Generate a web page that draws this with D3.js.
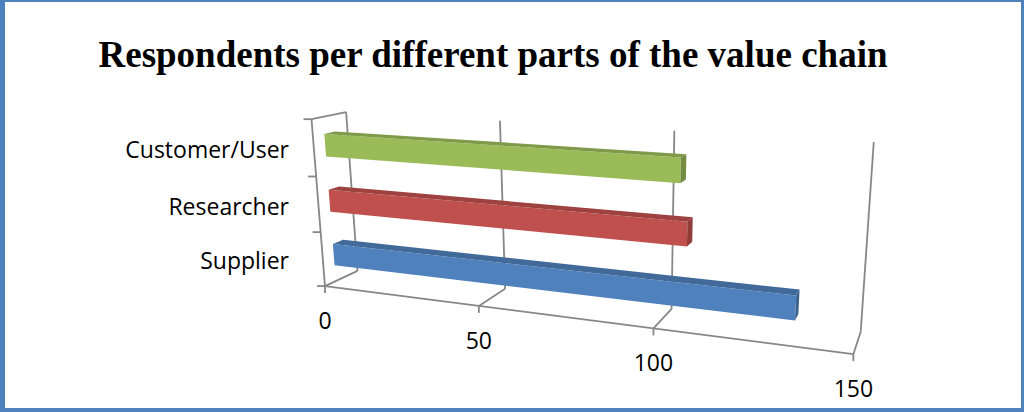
<!DOCTYPE html>
<html><head><meta charset="utf-8">
<script src="https://cdn.jsdelivr.net/npm/d3@7"></script>
<style>body{margin:0;background:#fff}svg{display:block}</style>
</head><body>
<svg id="chart" width="1024" height="412"></svg>
<script>
// ---------- data ----------
const title = "Respondents per different parts of the value chain";
const categories = ["Supplier", "Researcher", "Customer/User"]; // bottom -> top
const values = [135, 107, 105];
const colors = ["#4f81bd", "#c0504d", "#9bbb59"];
const xTicks = [0, 50, 100, 150];
const xMax = 150;

// ---------- 3D camera (fitted from frame anchors: world [x 0..1, y 0..1, z 0..1] -> screen) ----------
const anchors = [
  [0,0,0,324,287],[1,0,0,853,352],[0,0,1,358,269],[1,0,1,860,335],
  [0,1,0,312,119],[0,1,1,346,113],[1,1,1,874,141],
  [1/3,0,0,480,306.5],[2/3,0,0,654,328],[1/3,0,1,505,287],[2/3,0,1,672,310],
  [1/3,1,1,500,121],[2/3,1,1,674,130],[0,2/3,0,316,176.7],[0,1/3,0,320,232.7]
];
const CX = 600, CY = 250, S = 300;
function solve(A, b) {
  const n = b.length, M = A.map((r, i) => r.concat([b[i]]));
  for (let c = 0; c < n; c++) {
    let piv = c;
    for (let r = c + 1; r < n; r++) if (Math.abs(M[r][c]) > Math.abs(M[piv][c])) piv = r;
    [M[c], M[piv]] = [M[piv], M[c]];
    for (let r = 0; r < n; r++) if (r !== c) {
      const f = M[r][c] / M[c][c];
      for (let k = c; k <= n; k++) M[r][k] -= f * M[c][k];
    }
  }
  return M.map((r, i) => r[n] / r[i]);
}
const rows = [], rhs = [];
anchors.forEach(([X, Y, Z, u0, v0]) => {
  const u = (u0 - CX) / S, v = (v0 - CY) / S;
  rows.push([X, Y, Z, 1, 0, 0, 0, 0, -u * X, -u * Y, -u * Z]); rhs.push(u);
  rows.push([0, 0, 0, 0, X, Y, Z, 1, -v * X, -v * Y, -v * Z]); rhs.push(v);
});
const AtA = d3.range(11).map(i => d3.range(11).map(j => d3.sum(rows, r => r[i] * r[j])));
const Atb = d3.range(11).map(i => d3.sum(rows, (r, k) => r[i] * rhs[k]));
const P = solve(AtA, Atb);
function proj(X, Y, Z) {
  const w = P[8] * X + P[9] * Y + P[10] * Z + 1;
  return [CX + S * (P[0] * X + P[1] * Y + P[2] * Z + P[3]) / w,
          CY + S * (P[4] * X + P[5] * Y + P[6] * Z + P[7]) / w];
}

// ---------- scales ----------
const x = d3.scaleLinear().domain([0, xMax]).range([0, 1]);
const y = d3.scaleBand().domain(categories).range([0, 1]).paddingInner(0.6).paddingOuter(0.3);
const slot = d3.scaleBand().domain(categories).range([0, 1]);
const zBar = [0.32, 0.63];

const svg = d3.select("#chart");
const line = d3.line();
const grid = "#878787";
const labelFont = "'Open Sans', Lato, sans-serif";

// border
svg.append("rect").attr("x", 0).attr("y", 0).attr("width", 1024).attr("height", 412).attr("fill", "#fff");
const border = svg.append("g").attr("fill", "#4f81bd");
border.append("rect").attr("x", 0).attr("y", 0).attr("width", 5).attr("height", 412);
border.append("rect").attr("x", 0).attr("y", 0).attr("width", 1024).attr("height", 2);
border.append("rect").attr("x", 1021).attr("y", 0).attr("width", 3).attr("height", 412);
border.append("rect").attr("x", 0).attr("y", 408).attr("width", 1024).attr("height", 4);

// title
svg.append("text").attr("x", 493).attr("y", 67).attr("text-anchor", "middle")
  .attr("font-family", "'Liberation Serif','Times New Roman',serif").attr("font-weight", "bold")
  .attr("font-size", 37).attr("fill", "#000").text(title);

// frame: walls and gridlines
const g = svg.append("g").attr("fill", "none").attr("stroke", grid).attr("stroke-width", 1.8);
const seg = (a, b) => g.append("path").attr("d", line([proj(...a), proj(...b)]));
xTicks.filter(t => t > 0).forEach(t => {
  seg([x(t), 0, 1], [x(t), 1, 1]);   // back wall
  seg([x(t), 0, 1], [x(t), 0, 0]);   // floor
});
seg([0, 0, 1], [0, 1, 1]);   // left wall back edge
seg([0, 1, 0], [0, 1, 1]);   // left wall top edge
seg([0, 0, 1], [0, 0, 0]);   // floor left edge
seg([0, 0, 0], [1, 0, 0]);   // value axis (front)
seg([0, 0, 0], [0, 1, 0]);   // category axis (front)

// category ticks
const slotEdges = [0].concat(categories.map(c => slot(c) + slot.bandwidth()));
slotEdges.forEach(e => {
  const p = proj(0, e, 0);
  g.append("path").attr("d", line([p, [p[0] - 8, p[1]]]));
});
// value ticks + labels
xTicks.forEach(t => {
  const p = proj(x(t), 0, 0);
  g.append("path").attr("d", line([p, [p[0], p[1] + 7]]));
  svg.append("text").attr("x", p[0]).attr("y", p[1] + 43).attr("text-anchor", "middle")
    .attr("font-family", labelFont).attr("font-size", 23).attr("fill", "#000").text(t);
});
// category labels
categories.forEach(c => {
  const p = proj(0, slot(c) + slot.bandwidth() / 2, 0);
  svg.append("text").attr("x", 289).attr("y", p[1] + 2).attr("dy", "0.35em").attr("text-anchor", "end")
    .attr("font-family", labelFont).attr("font-size", 23).attr("fill", "#000").text(c);
});

// bars
const bars = svg.append("g");
categories.forEach((c, i) => {
  const x1 = x(values[i]), y0 = y(c), y1 = y(c) + y.bandwidth(), [z0, z1] = zBar;
  const col = d3.color(colors[i]);
  const face = (pts, fill) => bars.append("path").attr("d", line(pts.map(q => proj(...q))) + "Z").attr("fill", fill);
  face([[0, y0, z0], [x1, y0, z0], [x1, y1, z0], [0, y1, z0]], col.formatHex());
  face([[0, y1, z0], [x1, y1, z0], [x1, y1, z1], [0, y1, z1]], col.darker(0.55).formatHex());
  face([[x1, y0, z0], [x1, y0, z1], [x1, y1, z1], [x1, y1, z0]], col.darker(0.8).formatHex());
});
</script>
</body></html>
